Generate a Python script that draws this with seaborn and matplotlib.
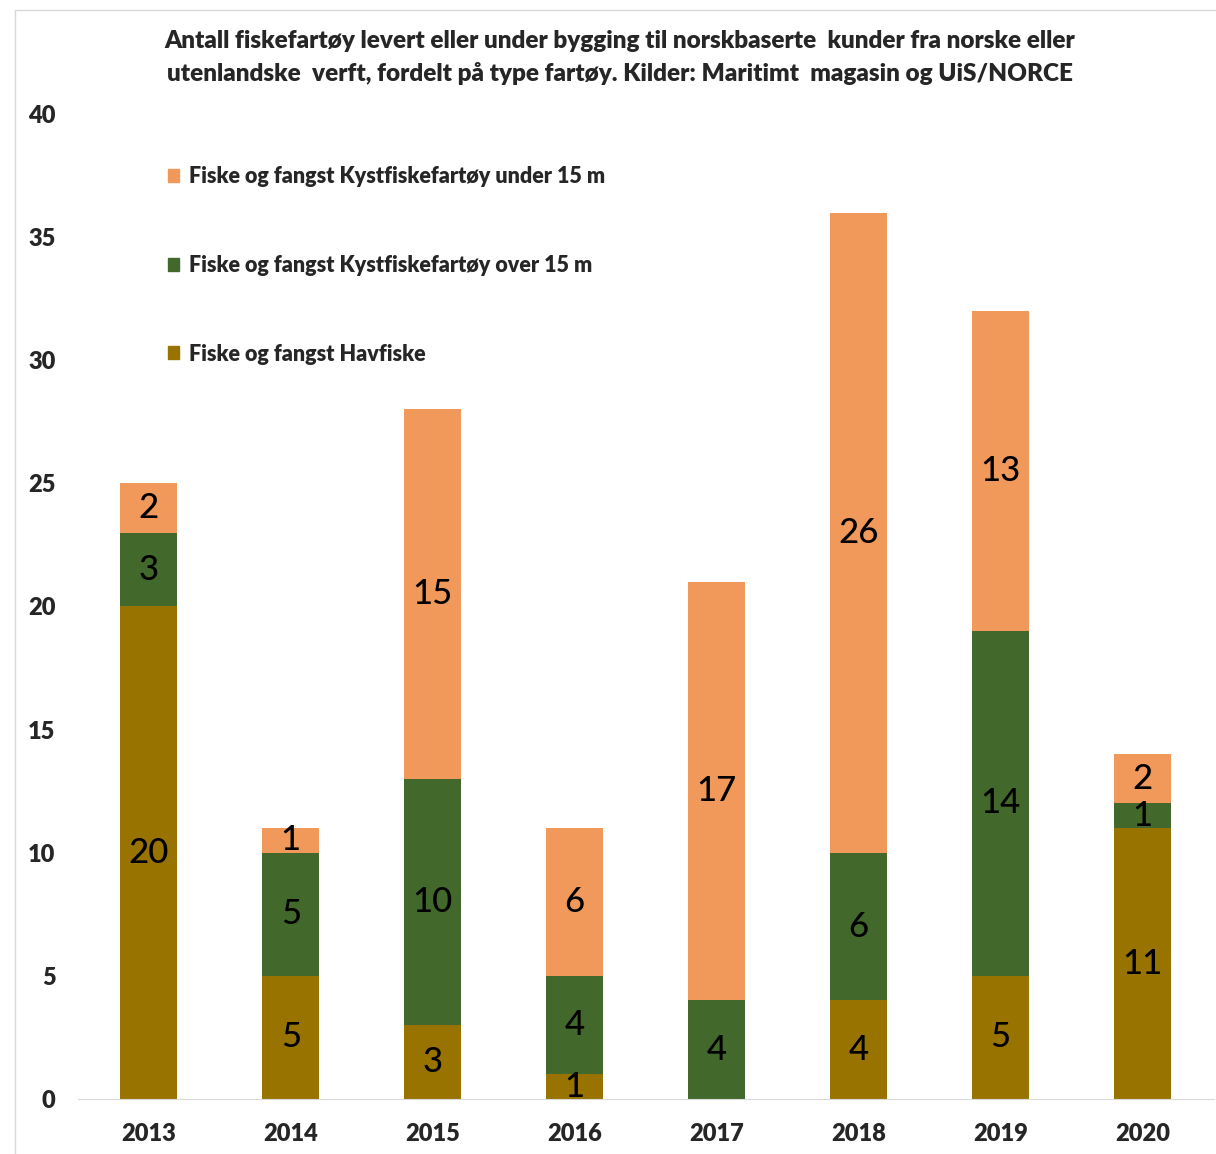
import numpy as np
import pandas as pd
import matplotlib
matplotlib.use("Agg")
import matplotlib.pyplot as plt
from matplotlib.lines import Line2D
import seaborn as sns

years = ["2013", "2014", "2015", "2016", "2017", "2018", "2019", "2020"]
havfiske = [20, 5, 3, 1, 0, 4, 5, 11]
over15 = [3, 5, 10, 4, 4, 6, 14, 1]
under15 = [2, 1, 15, 6, 17, 26, 13, 2]

series_names = [
    "Fiske og fangst Havfiske",
    "Fiske og fangst Kystfiskefartøy over 15 m",
    "Fiske og fangst Kystfiskefartøy under 15 m",
]
colors = ["#997300", "#43682B", "#F0995B"]

sns.set_style("white")
plt.rcParams["font.family"] = ["Lato", "DejaVu Sans"]

df = pd.DataFrame({"year": years, "hav": havfiske, "over": over15, "under": under15})
df["c1"] = df["hav"]
df["c2"] = df["hav"] + df["over"]
df["c3"] = df["c2"] + df["under"]

fig = plt.figure(figsize=(12.16, 11.54), dpi=100)
ax = fig.add_axes([0.064, 0.0477, 0.934, 0.8535])

# draw cumulative totals from top layer down so lower layers sit in front
for col, colr in zip(["c3", "c2", "c1"], colors[::-1]):
    sns.barplot(data=df, x="year", y=col, color=colr, width=0.4,
                saturation=1, ax=ax, edgecolor="none", errorbar=None)

# segment labels
for i, row in df.iterrows():
    lows = [0, row["c1"], row["c2"]]
    vals = [row["hav"], row["over"], row["under"]]
    for lo, v in zip(lows, vals):
        if v > 0:
            ax.text(i, lo + v / 2, str(v), ha="center", va="center",
                    fontsize=25, color="black", fontweight="medium")

ax.set_ylim(0, 40)
ax.set_xlim(-0.5, 7.5)
ax.set_yticks(range(0, 41, 5))
ax.set_xlabel("")
ax.set_ylabel("")
for s in ["top", "right", "left"]:
    ax.spines[s].set_visible(False)
ax.spines["bottom"].set_color("#d9d9d9")
ax.tick_params(axis="both", length=0, labelsize=17)
ax.tick_params(axis="y", pad=16)
ax.tick_params(axis="x", pad=17)
for lab in ax.get_xticklabels() + ax.get_yticklabels():
    lab.set_fontweight("heavy")

handles = [plt.Rectangle((0, 0), 1, 1, color=c) for c in colors[::-1]]
leg = ax.legend(handles, series_names[::-1], loc="upper left",
                bbox_to_anchor=(0.062, 0.967), frameon=False,
                prop={"size": 15.5, "weight": "heavy"},
                handlelength=0.55, handleheight=0.55, handletextpad=0.45,
                labelspacing=3.15)

fig.text(0.51, 0.974,
         "Antall fiskefartøy levert eller under bygging til norskbaserte  kunder fra norske eller\n"
         "utenlandske  verft, fordelt på type fartøy. Kilder: Maritimt  magasin og UiS/NORCE",
         ha="center", va="top", fontsize=17.5, fontweight="heavy", linespacing=1.55)

# light frame lines on top and left
fig.add_artist(Line2D([0.0123, 1.0], [0.9913, 0.9913], transform=fig.transFigure,
                      color="#d9d9d9", lw=1))
fig.add_artist(Line2D([0.0123, 0.0123], [0.0, 0.9913], transform=fig.transFigure,
                      color="#d9d9d9", lw=1))

fig.savefig("out.png", dpi=100)
